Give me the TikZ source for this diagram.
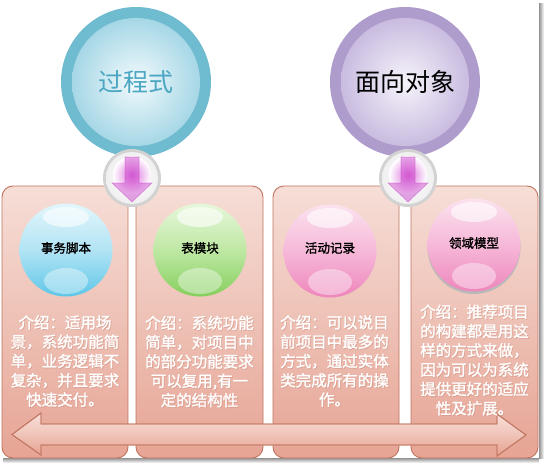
\documentclass[tikz,border=0pt]{standalone}
\usepackage{fontspec}
\newfontfamily\cjk{Noto Sans CJK SC}[AutoFakeBold=1.6]
\definecolor{pTop}{HTML}{F6DED7}
\definecolor{pBot}{HTML}{E6A494}
\definecolor{pLine}{HTML}{C0735F}
\definecolor{aTop}{HTML}{F8E0DA}
\definecolor{aMid}{HTML}{F0C4B8}
\definecolor{aBot}{HTML}{E6A08F}
\definecolor{aLine}{HTML}{C47A66}
\definecolor{tealRing}{HTML}{6FBBD0}
\definecolor{tealIn}{HTML}{F2FAFC}
\definecolor{tealOut}{HTML}{A6D7E6}
\definecolor{tealText}{HTML}{4AA6C2}
\definecolor{purRing}{HTML}{AE9CCC}
\definecolor{purIn}{HTML}{F6F3FA}
\definecolor{purOut}{HTML}{C9BCE0}
\definecolor{bTop}{HTML}{E2F6FC}
\definecolor{bMid}{HTML}{B2E4F4}
\definecolor{bBot}{HTML}{5EC6E8}
\definecolor{gTop}{HTML}{E6F7DA}
\definecolor{gMid}{HTML}{BFE8A4}
\definecolor{gBot}{HTML}{84CF5C}
\definecolor{kTop}{HTML}{FBE2EF}
\definecolor{kMid}{HTML}{F6B8D8}
\definecolor{kBot}{HTML}{EE86BC}
\definecolor{mag}{HTML}{C83CC8}
\definecolor{magGlow}{HTML}{DC70DC}
\begin{document}
\begin{tikzpicture}[x=1pt,y=-1pt,
  panel/.style={draw=pLine,line width=0.9pt,rounded corners=11pt,top color=pTop,bottom color=pBot},
  bigring/.style={circle,minimum size=150pt,inner sep=0pt},
  desc/.style={text=white,align=center,font=\cjk\bfseries\fontsize{15.5}{19.3}\selectfont},
  descsh/.style={text=pLine!80,opacity=0.45,align=center,font=\cjk\bfseries\fontsize{15.5}{19.3}\selectfont},
  balltext/.style={text=black,font=\cjk\bfseries\fontsize{12.5}{14}\selectfont},
  hilite/.style={fill=white,opacity=0.6},
  lowlite/.style={fill=white,opacity=0.4}
]
\useasboundingbox (0,0) rectangle (544,463);
% screenshot shadow
\shade[left color=gray!85,right color=white] (539,3) rectangle (544,458);
\shade[top color=gray!85,bottom color=white] (3,458) rectangle (539,463);
% panels
\path[panel] (2,186) rectangle (128,458);
\path[panel] (136,186) rectangle (263,458);
\path[panel] (273,186) rectangle (399,458);
\path[panel] (411,186) rectangle (538,458);
% big circles
\fill[tealRing] (136,82) circle (75);
\shade[inner color=tealIn,outer color=tealOut] (136,82) circle (64);
\node[bigring,text=tealText,font=\cjk\fontsize{25}{28}\selectfont] (proc) at (136,82) {过程式};
\fill[purRing] (405,82) circle (75);
\shade[inner color=purIn,outer color=purOut] (405,82) circle (64);
\node[bigring,text=black,font=\cjk\fontsize{25}{28}\selectfont] (oo) at (405,82) {面向对象};
% small arrow circles
\foreach \cx/\nm in {132/arrA,408/arrB}{
  \fill[gray!35] (\cx,178) circle (29);
  \shade[inner color=white,outer color=gray!12] (\cx,178) circle (26);
  \shade[inner color=magGlow,outer color=white] (\cx,175) circle (19);
  \fill[mag,opacity=0.45,draw=mag,line width=0.6pt]
    (\cx-7,157) -- (\cx+7,157) -- (\cx+7,183) -- (\cx+20,183) -- (\cx,202) -- (\cx-20,183) -- (\cx-7,183) -- cycle;
  \coordinate (\nm) at (\cx,178);
}
% balls
\fill[gray!55] (474,247.5) circle (46.5);
\foreach \bx/\by/\ct/\cm/\cb in {66/250/bTop/bMid/bBot,200/250/gTop/gMid/gBot,330/251/kTop/kMid/kBot,474/245/kTop/kMid/kBot}{
  \shade[top color=\ct,bottom color=\cb,middle color=\cm] (\bx,\by) circle (46.5);
  \fill[hilite] (\bx,\by-33) ellipse (23 and 10);
  \fill[lowlite] (\bx,\by+31) ellipse (22 and 13);
}
\node[balltext] (b1) at (66,248) {事务脚本};
\node[balltext] (b2) at (200,248) {表模块};
\node[balltext] (b3) at (330,248) {活动记录};
\node[balltext] (b4) at (474,243) {领域模型};
% bottom double arrow
\shade[top color=aTop,bottom color=aBot,middle color=aMid,draw=aLine,line width=0.9pt]
  (12,434.5) -- (41,413) -- (41,424) -- (497,424) -- (497,414) -- (526,435) -- (497,456) -- (497,445) -- (41,445) -- (41,455) -- cycle;
\draw[aLine,line width=0.9pt] (12,434.5) -- (41,413) -- (41,424) -- (497,424) -- (497,414) -- (526,435) -- (497,456) -- (497,445) -- (41,445) -- (41,455) -- cycle;
% descriptions
\node[descsh] (s1) at (65.8,361.8) {介绍：适用场\\景，系统功能简\\单，业务逻辑不\\复杂，并且要求\\快速交付。};
\node[desc] (d1) at (65,361) {介绍：适用场\\景，系统功能简\\单，业务逻辑不\\复杂，并且要求\\快速交付。};
\node[descsh] (s2) at (200.3,362.3) {介绍：系统功能\\简单，对项目中\\的部分功能要求\\可以复用,有一\\定的结构性};
\node[desc] (d2) at (199.5,361.5) {介绍：系统功能\\简单，对项目中\\的部分功能要求\\可以复用,有一\\定的结构性};
\node[descsh] (s3) at (335.3,361.8) {介绍：可以说目\\前项目中最多的\\方式，通过实体\\类完成所有的操\\作。};
\node[desc] (d3) at (334.5,361) {介绍：可以说目\\前项目中最多的\\方式，通过实体\\类完成所有的操\\作。};
\node[descsh] (s4) at (475.3,360.8) {介绍：推荐项目\\的构建都是用这\\样的方式来做，\\因为可以为系统\\提供更好的适应\\性及扩展。};
\node[desc] (d4) at (474.5,360) {介绍：推荐项目\\的构建都是用这\\样的方式来做，\\因为可以为系统\\提供更好的适应\\性及扩展。};
\end{tikzpicture}
\end{document}
